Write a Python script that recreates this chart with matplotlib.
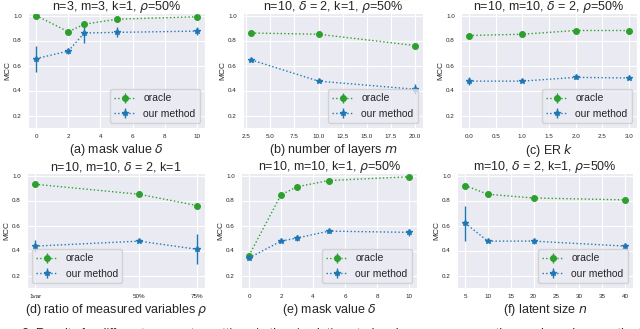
import matplotlib
matplotlib.use("Agg")
import matplotlib.pyplot as plt
import seaborn as sns

sns.set_style("darkgrid")
plt.rcParams["font.family"] = ["Liberation Sans", "DejaVu Sans"]

# (a) mask value delta, n=3
a_x = [0, 2, 3, 5, 10]
a_oracle = [1.0, 0.87, 0.93, 0.97, 0.99]
a_ours = [0.655, 0.715, 0.86, 0.865, 0.875]
a_err = [0.105, 0.02, 0.08, 0.04, 0.03]

# (b) number of layers m
b_x = [3, 10, 20]
b_oracle = [0.86, 0.85, 0.76]
b_ours = [0.645, 0.475, 0.41]
b_err = [0.01, 0.01, 0.04]

# (c) ER k
c_x = [0, 1, 2, 3]
c_oracle = [0.84, 0.85, 0.88, 0.88]
c_ours = [0.475, 0.475, 0.505, 0.5]
c_err = [0.03, 0.01, 0.015, 0.01]

# (d) ratio of measured variables
d_x = [0.05, 0.5, 0.75]
d_labels = ["1var", "50%", "75%"]
d_oracle = [0.93, 0.85, 0.76]
d_ours = [0.435, 0.475, 0.41]
d_err = [0.05, 0.01, 0.12]

# (e) mask value delta, n=10
e_x = [0, 2, 3, 5, 10]
e_oracle = [0.36, 0.845, 0.91, 0.96, 0.99]
e_ours = [0.34, 0.475, 0.5, 0.555, 0.545]
e_err = [0.015, 0.01, 0.025, 0.015, 0.025]

# (f) latent size n
f_x = [5, 10, 20, 40]
f_oracle = [0.92, 0.85, 0.82, 0.805]
f_ours = [0.62, 0.475, 0.475, 0.435]
f_err = [0.14, 0.01, 0.02, 0.02]

panels = [
    (a_x, a_oracle, a_ours, a_err, "n=3, m=3, k=1, $\\rho$=50%", "(a) mask value $\\delta$"),
    (b_x, b_oracle, b_ours, b_err, "n=10, $\\delta$ = 2, k=1, $\\rho$=50%", "(b) number of layers $m$"),
    (c_x, c_oracle, c_ours, c_err, "n=10, m=10, $\\delta$ = 2, $\\rho$=50%", "(c) ER $k$"),
    (d_x, d_oracle, d_ours, d_err, "n=10, m=10, $\\delta$ = 2, k=1", "(d) ratio of measured variables $\\rho$"),
    (e_x, e_oracle, e_ours, e_err, "n=10, m=10, k=1, $\\rho$=50%", "(e) mask value $\\delta$"),
    (f_x, f_oracle, f_ours, f_err, "m=10, $\\delta$ = 2, k=1, $\\rho$=50%", "(f) latent size $n$"),
]

# axes rectangles in figure pixels (left, top, right, bottom)
W, H = 640, 329
boxes = [
    (28, 13, 205, 128), (243, 13, 423, 128), (461, 13, 637, 128),
    (27, 173, 205, 288), (241, 173, 417, 288), (457, 173, 633, 288),
]

fig = plt.figure(figsize=(6.4, 3.29), dpi=100)

for i, (x, orc, ours, err, title, xlabel) in enumerate(panels):
    l, t, r, b = boxes[i]
    ax = fig.add_axes([l / W, 1 - b / H, (r - l) / W, (b - t) / H])
    ax.errorbar(x, orc, yerr=[0.005] * len(x), color="tab:green", ls=":", lw=1,
                marker="o", ms=4, label="oracle")
    ax.errorbar(x, ours, yerr=err, color="tab:blue", ls=":", lw=1,
                marker="*", ms=4, label="our method")
    ax.set_ylim(0.1, 1.02)
    ax.set_yticks([0.2, 0.4, 0.6, 0.8, 1.0])
    ax.set_title(title, fontsize=9, pad=2)
    ax.set_xlabel(xlabel, fontsize=9, labelpad=2)
    ax.set_ylabel("MCC", fontsize=6, labelpad=1)
    ax.tick_params(labelsize=4.5, pad=1)
    if i == 3:
        ax.set_xticks(d_x)
        ax.set_xticklabels(d_labels)
        ax.legend(loc="lower left", fontsize=7.5)
    else:
        ax.legend(loc="lower right", fontsize=7.5)

# caption of the source figure, cut off at the bottom edge
fig.text(-0.027, -0.016, "Figure 2: Results for different parameter settings in the simulation study, where we compare the oracle and our method",
         fontsize=9, va="center")

fig.savefig("out.png", dpi=100)
